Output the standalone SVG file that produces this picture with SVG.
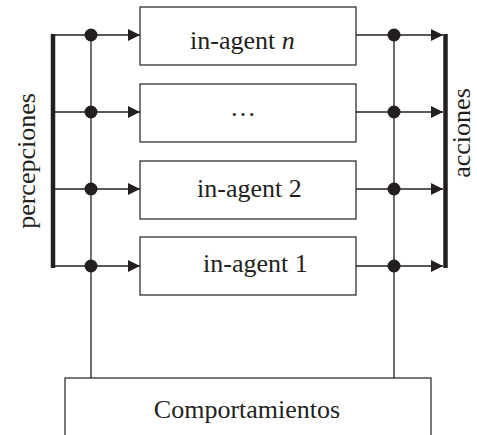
<svg xmlns="http://www.w3.org/2000/svg" width="477" height="435" viewBox="0 0 477 435">
  <style>
    .box { fill: #fff; stroke: #231f20; stroke-width: 1.2; }
    .ln { stroke: #231f20; stroke-width: 1.3; fill: none; }
    .bar { stroke: #231f20; stroke-width: 4.5; fill: none; }
    .dot { fill: #231f20; }
    .lbl { font-family: "Liberation Serif", "Times New Roman", serif; font-size: 26px; fill: #231f20; }
  </style>
  <defs>
    <marker id="arr" markerWidth="12" markerHeight="12" viewBox="0 0 12 12" refX="12" refY="6" orient="auto" markerUnits="userSpaceOnUse">
      <path d="M0,0 L12,6 L0,12 Z" fill="#231f20"/>
    </marker>
  </defs>

  <!-- connectors: bus lines, row wires, junction dots -->
  <g id="connectors">
    <line class="bar" x1="53" y1="34" x2="53" y2="268"/>
    <line class="bar" x1="445.5" y1="34" x2="445.5" y2="268"/>
    <line class="ln" x1="91" y1="35" x2="91" y2="378"/>
    <line class="ln" x1="394" y1="35" x2="394" y2="378"/>
    <!-- inputs -->
    <line class="ln" x1="53" y1="35" x2="140" y2="35" marker-end="url(#arr)"/>
    <line class="ln" x1="53" y1="112" x2="140" y2="112" marker-end="url(#arr)"/>
    <line class="ln" x1="53" y1="189" x2="140" y2="189" marker-end="url(#arr)"/>
    <line class="ln" x1="53" y1="266" x2="140" y2="266" marker-end="url(#arr)"/>
    <!-- outputs -->
    <line class="ln" x1="356" y1="35" x2="443" y2="35" marker-end="url(#arr)"/>
    <line class="ln" x1="356" y1="112" x2="443" y2="112" marker-end="url(#arr)"/>
    <line class="ln" x1="356" y1="189" x2="443" y2="189" marker-end="url(#arr)"/>
    <line class="ln" x1="356" y1="266" x2="443" y2="266" marker-end="url(#arr)"/>
    <circle class="dot" cx="91" cy="35" r="6.5"/>
    <circle class="dot" cx="91" cy="112" r="6.5"/>
    <circle class="dot" cx="91" cy="189" r="6.5"/>
    <circle class="dot" cx="91" cy="266" r="6.5"/>
    <circle class="dot" cx="394" cy="35" r="6.5"/>
    <circle class="dot" cx="394" cy="112" r="6.5"/>
    <circle class="dot" cx="394" cy="189" r="6.5"/>
    <circle class="dot" cx="394" cy="266" r="6.5"/>
  </g>

  <g id="agent-n">
    <rect class="box" x="140" y="7" width="216" height="58"/>
    <text class="lbl" x="190" y="49">in-agent <tspan font-style="italic">n</tspan></text>
  </g>
  <g id="agent-dots">
    <rect class="box" x="140" y="84" width="216" height="58"/>
    <text class="lbl" x="243" y="116" text-anchor="middle">…</text>
  </g>
  <g id="agent-2">
    <rect class="box" x="140" y="161" width="216" height="58"/>
    <text class="lbl" x="197" y="197">in-agent 2</text>
  </g>
  <g id="agent-1">
    <rect class="box" x="140" y="237" width="216" height="58"/>
    <text class="lbl" x="203" y="272">in-agent 1</text>
  </g>

  <g id="comportamientos">
    <rect class="box" x="65" y="378" width="366" height="70"/>
    <text class="lbl" x="247" y="418" text-anchor="middle">Comportamientos</text>
  </g>

  <g id="percepciones">
    <text class="lbl" transform="translate(35,161) rotate(-90)" text-anchor="middle">percepciones</text>
  </g>
  <g id="acciones">
    <text class="lbl" transform="translate(470,133) rotate(-90)" text-anchor="middle">acciones</text>
  </g>
</svg>
